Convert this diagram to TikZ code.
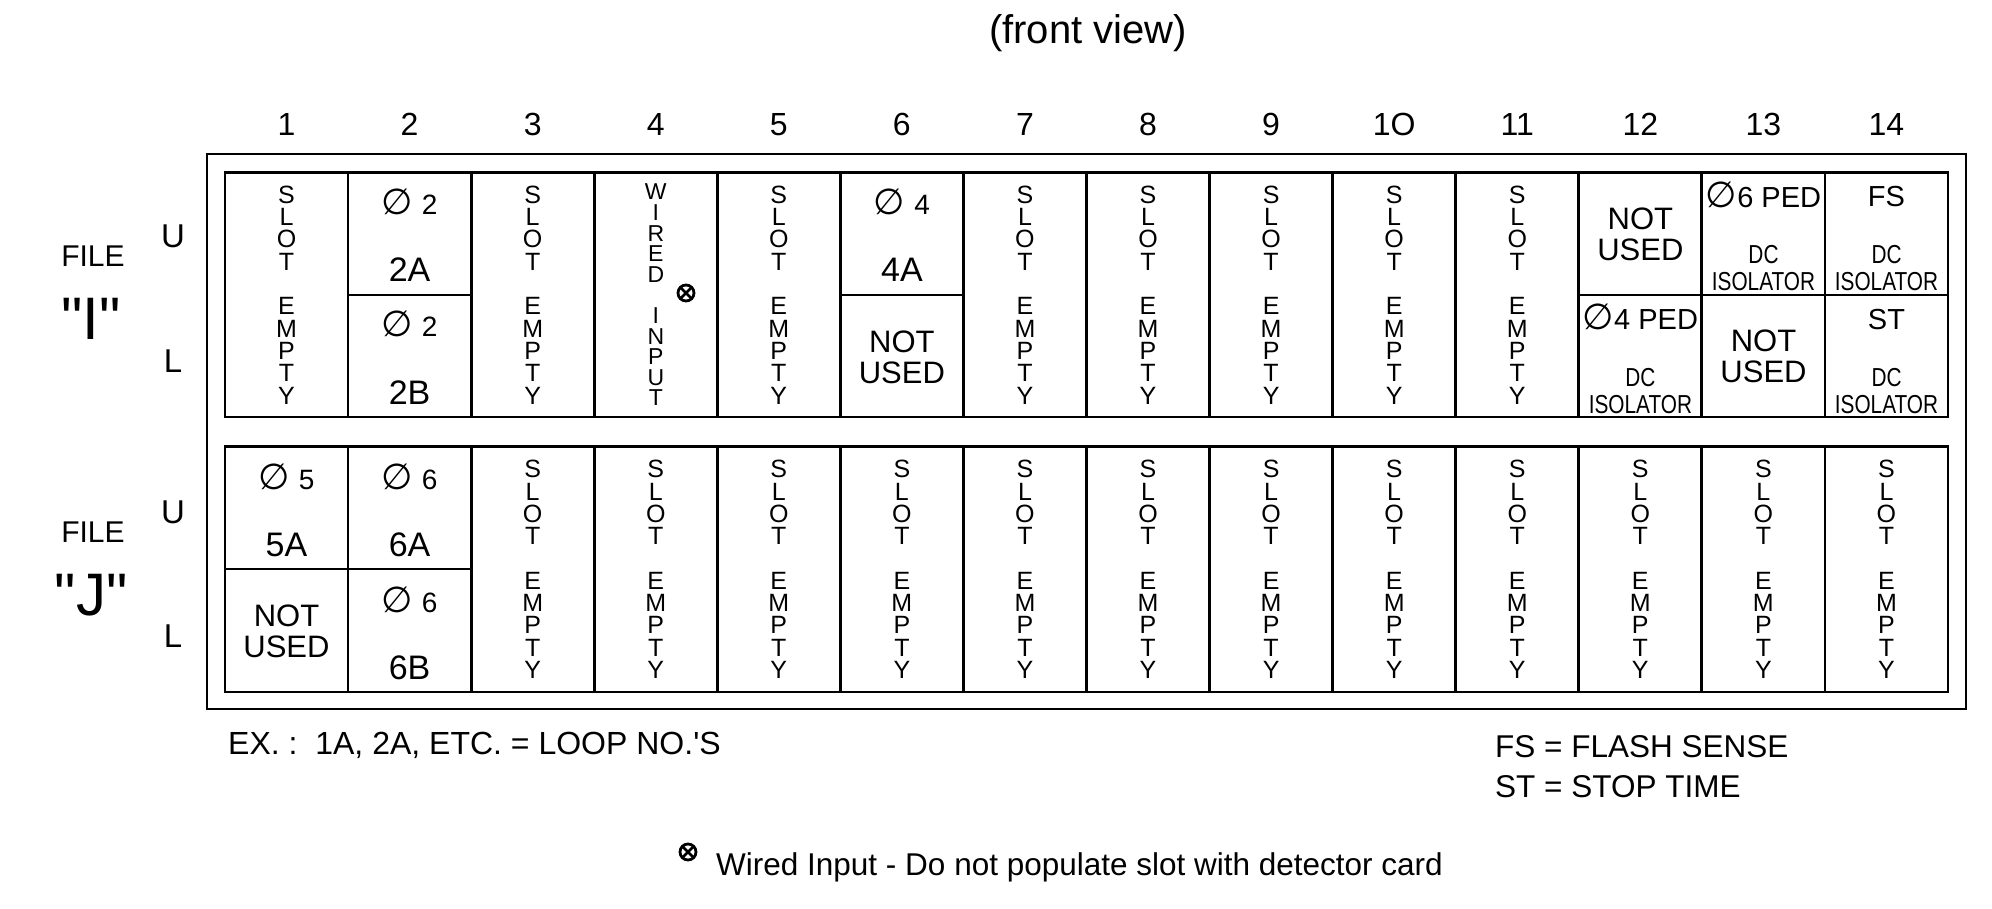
\documentclass[tikz,border=0pt]{standalone}
\usepackage{fontspec}
\setmainfont{Liberation Sans}
\newfontfamily\plainquote{Liberation Sans}
\newfontfamily\narrowfont[FakeStretch=0.8]{Liberation Sans}
\newfontfamily\symfontdv{DejaVu Sans}
\newcommand{\diasym}{{\symfontdv\fontsize{36}{36}\selectfont ∅}}
\newcommand{\fsz}[1]{\fontsize{#1}{#1}\selectfont}
\usetikzlibrary{calc}
\begin{document}
\begin{tikzpicture}[x=1pt,y=-1pt,
  frame/.style={line width=2.6pt},
  rule/.style={line width=2.8pt},
  vstack/.style={align=center, inner sep=0pt, font=\fontsize{25}{22.3}\selectfont},
  lbl/.style={anchor=base, inner sep=0pt},
  lblw/.style={anchor=base west, inner sep=0pt},
  notused/.style={align=center, inner sep=0pt, font=\fontsize{31}{31}\selectfont},
  diaf/.style={lbl, font=\fsz{28}},
  loopf/.style={lbl, font=\fsz{34}},
  pedf/.style={lbl, font=\fsz{29}},
  dcf/.style={lbl, font=\narrowfont\fsz{26}},
  xmark/.style={circle, draw, line width=2.8pt, minimum size=16pt, inner sep=0pt,
    path picture={\draw[line width=2.8pt]
      (path picture bounding box.north west) -- (path picture bounding box.south east)
      (path picture bounding box.north east) -- (path picture bounding box.south west);}}
]
\useasboundingbox (0,0) rectangle (1992,909);

% title and column numbers
\node[lbl, font=\fsz{40}] (title) at (1088,44) {(front view)};
\foreach \k/\t in {1/1,2/2,3/3,4/4,5/5,6/6,7/7,8/8,9/9,10/1O,11/11,12/12,13/13,14/14}
  \node[lbl, font=\fsz{32}] (n\k) at ({225+(\k-0.5)*123.07},136) {\t};

% file labels
\node[lbl, font=\fsz{30}] (fileI) at (93,267) {FILE};
\node[lbl, font=\plainquote\fsz{60}] (qI) at (91,340) {"I"};
\node[lbl, font=\fsz{30}] (fileJ) at (93,542) {FILE};
\node[lbl, font=\plainquote\fsz{60}] (qJ) at (91,615) {"J"};
\node[lbl, font=\fsz{33}] (uI) at (173,248) {U};
\node[lbl, font=\fsz{33}] (lI) at (173,372) {L};
\node[lbl, font=\fsz{33}] (uJ) at (173,523) {U};
\node[lbl, font=\fsz{33}] (lJ) at (173,647) {L};

% frames and grid
\draw[frame] (207,154) rectangle (1966,709);
\draw[rule] (225,172.5) rectangle (1948,417);
\draw[rule] (225,446.5) rectangle (1948,692);
\foreach \k in {1,...,13} {
  \draw[rule] ({225+\k*123.07},172.5) -- ({225+\k*123.07},417);
  \draw[rule] ({225+\k*123.07},446.5) -- ({225+\k*123.07},692);
}
\draw[rule] (348.07,295) -- (471.14,295);
\draw[rule] (840.35,295) -- (963.42,295);
\draw[rule] (1578.77,295) -- (1948,295);
\draw[rule] (225,569) -- (471.14,569);

% upper file: slot empty columns
\foreach \k in {1,3,5,7,8,9,10,11}
  \node[vstack] (su\k) at ({225+(\k-0.5)*123.07},295) {S\\L\\O\\T\\[22.3pt]E\\M\\P\\T\\Y};
% lower file: slot empty columns
\foreach \k in {3,...,14}
  \node[vstack] (sl\k) at ({225+(\k-0.5)*123.07},569.5) {S\\L\\O\\T\\[22.3pt]E\\M\\P\\T\\Y};

% column 2 upper
\node[diaf] (d2a) at (409.6,214.5) {\diasym\hspace{9pt}2};
\node[loopf] (l2a) at (409.6,282) {2A};
\node[diaf] (d2b) at (409.6,337) {\diasym\hspace{9pt}2};
\node[loopf] (l2b) at (409.6,404.5) {2B};

% column 4 upper: wired input
\node[vstack, font=\fontsize{23}{20.6}\selectfont] (wired) at (655.8,295) {W\\I\\R\\E\\D\\[20.6pt]I\\N\\P\\U\\T};
\node[xmark] (xw) at (686,293) {};

% column 6 upper
\node[diaf] (d4a) at (901.9,214.5) {\diasym\hspace{9pt}4};
\node[loopf] (l4a) at (901.9,282) {4A};
\node[notused] (nu6) at (901.9,357) {NOT\\USED};

% column 12
\node[notused] (nu12) at (1640.4,234) {NOT\\USED};
\node[pedf] (p12) at (1640.4,330) {\diasym4 PED};
\node[dcf] (dc12) at (1640.4,386) {DC};
\node[dcf] (is12) at (1640.4,413) {ISOLATOR};

% column 13
\node[pedf] (p13) at (1763.5,207.5) {\diasym6 PED};
\node[dcf] (dc13) at (1763.5,263.5) {DC};
\node[dcf] (is13) at (1763.5,290.5) {ISOLATOR};
\node[notused] (nu13) at (1763.5,356) {NOT\\USED};

% column 14
\node[pedf] (fs14) at (1886.5,207) {FS};
\node[dcf] (dc14a) at (1886.5,263.5) {DC};
\node[dcf] (is14a) at (1886.5,290.5) {ISOLATOR};
\node[pedf] (st14) at (1886.5,330) {ST};
\node[dcf] (dc14b) at (1886.5,386) {DC};
\node[dcf] (is14b) at (1886.5,413) {ISOLATOR};

% lower file columns 1 and 2
\node[diaf] (d5) at (286.5,489.5) {\diasym\hspace{9pt}5};
\node[loopf] (l5a) at (286.5,556) {5A};
\node[notused] (nu1) at (286.5,631.5) {NOT\\USED};
\node[diaf] (d6a) at (409.6,489.5) {\diasym\hspace{9pt}6};
\node[loopf] (l6a) at (409.6,556) {6A};
\node[diaf] (d6b) at (409.6,612) {\diasym\hspace{9pt}6};
\node[loopf] (l6b) at (409.6,679) {6B};

% legends
\node[lblw, font=\fsz{32}] (ex) at (228,754) {EX. :~~1A, 2A, ETC. = LOOP NO.\textquotesingle S};
\node[lblw, font=\fsz{31.5}] (fsl) at (1495,757) {FS = FLASH SENSE};
\node[lblw, font=\fsz{31.5}] (stl) at (1495,797) {ST = STOP TIME};
\node[xmark] (xl) at (688,852) {};
\node[lblw, font=\fsz{31.5}] (wl) at (716,875) {Wired Input - Do not populate slot with detector card};
\end{tikzpicture}
\end{document}
